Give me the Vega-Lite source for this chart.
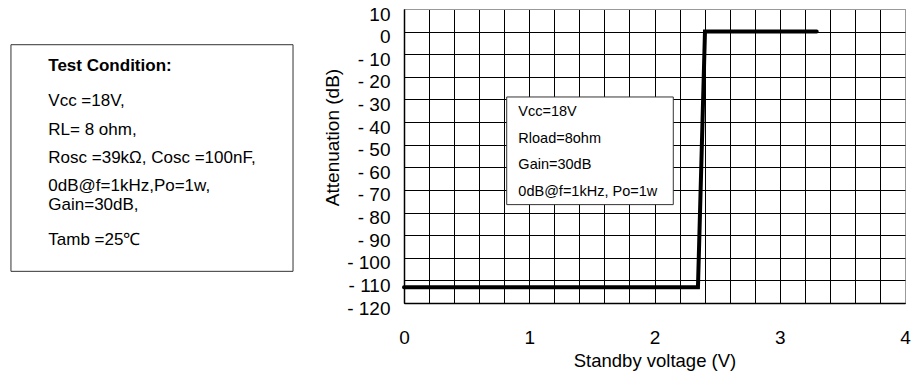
{
  "$schema": "https://vega.github.io/schema/vega-lite/v6.json",
  "width": 501,
  "height": 294,
  "autosize": {"type": "none"},
  "padding": {"left": 404, "top": 9, "right": 10, "bottom": 73},
  "background": "white",
  "config": {
    "font": "Liberation Sans",
    "view": {"stroke": "#999", "strokeWidth": 1}
  },
  "datasets": {
    "curve": [
      {"x": 0, "y": -113},
      {"x": 2.347, "y": -113},
      {"x": 2.403, "y": 0},
      {"x": 3.295, "y": 0}
    ],
    "boxes": [
      {"name": "conditions", "x": -3.138, "x2": -0.886, "y": -5.79, "y2": -106.0},
      {"name": "legend", "x": 0.82, "x2": 2.15, "y": -28.9, "y2": -76.5}
    ],
    "notes": [
      {"box": "conditions", "role": "heading", "x": -2.84, "y": -15.4, "text": "Test Condition:"},
      {"box": "conditions", "role": "line", "x": -2.84, "y": -30.9, "text": "Vcc =18V,"},
      {"box": "conditions", "role": "line", "x": -2.84, "y": -43.4, "text": "RL= 8 ohm,"},
      {"box": "conditions", "role": "line", "x": -2.84, "y": -55.9, "text": "Rosc =39kΩ, Cosc =100nF,"},
      {"box": "conditions", "role": "line", "x": -2.84, "y": -68.4, "text": "0dB@f=1kHz,Po=1w,"},
      {"box": "conditions", "role": "line", "x": -2.84, "y": -76.5, "text": "Gain=30dB,"},
      {"box": "conditions", "role": "line", "x": -2.84, "y": -92.0, "text": "Tamb =25℃"},
      {"box": "legend", "role": "line", "x": 0.913, "y": -35.7, "text": "Vcc=18V"},
      {"box": "legend", "role": "line", "x": 0.913, "y": -47.5, "text": "Rload=8ohm"},
      {"box": "legend", "role": "line", "x": 0.913, "y": -58.8, "text": "Gain=30dB"},
      {"box": "legend", "role": "line", "x": 0.913, "y": -70.7, "text": "0dB@f=1kHz, Po=1w"}
    ]
  },
  "encoding": {
    "x": {
      "field": "x",
      "type": "quantitative",
      "scale": {"domain": [0, 4], "nice": false, "zero": false},
      "axis": {
        "title": "Standby voltage (V)",
        "values": [0, 0.2, 0.4, 0.6, 0.8, 1, 1.2, 1.4, 1.6, 1.8, 2, 2.2, 2.4, 2.6, 2.8, 3, 3.2, 3.4, 3.6, 3.8, 4],
        "format": "~g",
        "labelExpr": "datum.value % 1 === 0 ? datum.label : ''",
        "labelFlush": false,
        "labelOverlap": false,
        "labelFontSize": 19,
        "labelColor": "black",
        "labelPadding": 25,
        "ticks": false,
        "domainColor": "black",
        "domainWidth": 1.5,
        "grid": true,
        "gridColor": {"condition": {"test": "datum.value === 4", "value": "#999"}, "value": "black"},
        "gridOpacity": 1,
        "gridWidth": 1,
        "titleFontSize": 18.5,
        "titleFontWeight": "normal",
        "titleColor": "black",
        "titlePadding": 4
      }
    },
    "y": {
      "field": "y",
      "type": "quantitative",
      "scale": {"domain": [-120, 10], "nice": false, "zero": false},
      "axis": {
        "title": "Attenuation (dB)",
        "values": [10, 0, -10, -20, -30, -40, -50, -60, -70, -80, -90, -100, -110, -120],
        "labelExpr": "datum.value < 0 ? '- ' + (-datum.value) : '' + datum.value",
        "labelOverlap": false,
        "labelFontSize": 19,
        "labelColor": "black",
        "labelPadding": 14,
        "labelOffset": 5,
        "ticks": false,
        "domainColor": "black",
        "domainWidth": 1.5,
        "grid": true,
        "gridColor": {"condition": {"test": "datum.value === 10", "value": "#999"}, "value": "black"},
        "gridOpacity": 1,
        "gridWidth": 1,
        "titleFontSize": 19,
        "titleFontWeight": "normal",
        "titleColor": "black",
        "titlePadding": 4,
        "titleY": 128
      }
    }
  },
  "layer": [
    {
      "data": {"name": "curve"},
      "mark": {"type": "line", "color": "black", "strokeWidth": 4, "strokeCap": "round", "strokeJoin": "miter"}
    },
    {
      "data": {"name": "boxes"},
      "mark": {"type": "rect", "fill": "white", "stroke": "#333", "strokeWidth": 1},
      "encoding": {
        "x2": {"field": "x2"},
        "y2": {"field": "y2"}
      }
    },
    {
      "data": {"name": "notes"},
      "transform": [{"filter": "datum.role === 'heading'"}],
      "mark": {"type": "text", "align": "left", "baseline": "middle", "color": "black", "fontWeight": "bold", "fontSize": 17},
      "encoding": {"text": {"field": "text"}}
    },
    {
      "data": {"name": "notes"},
      "transform": [{"filter": "datum.role === 'line' && datum.box === 'conditions'"}],
      "mark": {"type": "text", "align": "left", "baseline": "middle", "color": "black", "fontSize": 17},
      "encoding": {"text": {"field": "text"}}
    },
    {
      "data": {"name": "notes"},
      "transform": [{"filter": "datum.box === 'legend'"}],
      "mark": {"type": "text", "align": "left", "baseline": "middle", "color": "black", "fontSize": 14.5},
      "encoding": {"text": {"field": "text"}}
    }
  ]
}
